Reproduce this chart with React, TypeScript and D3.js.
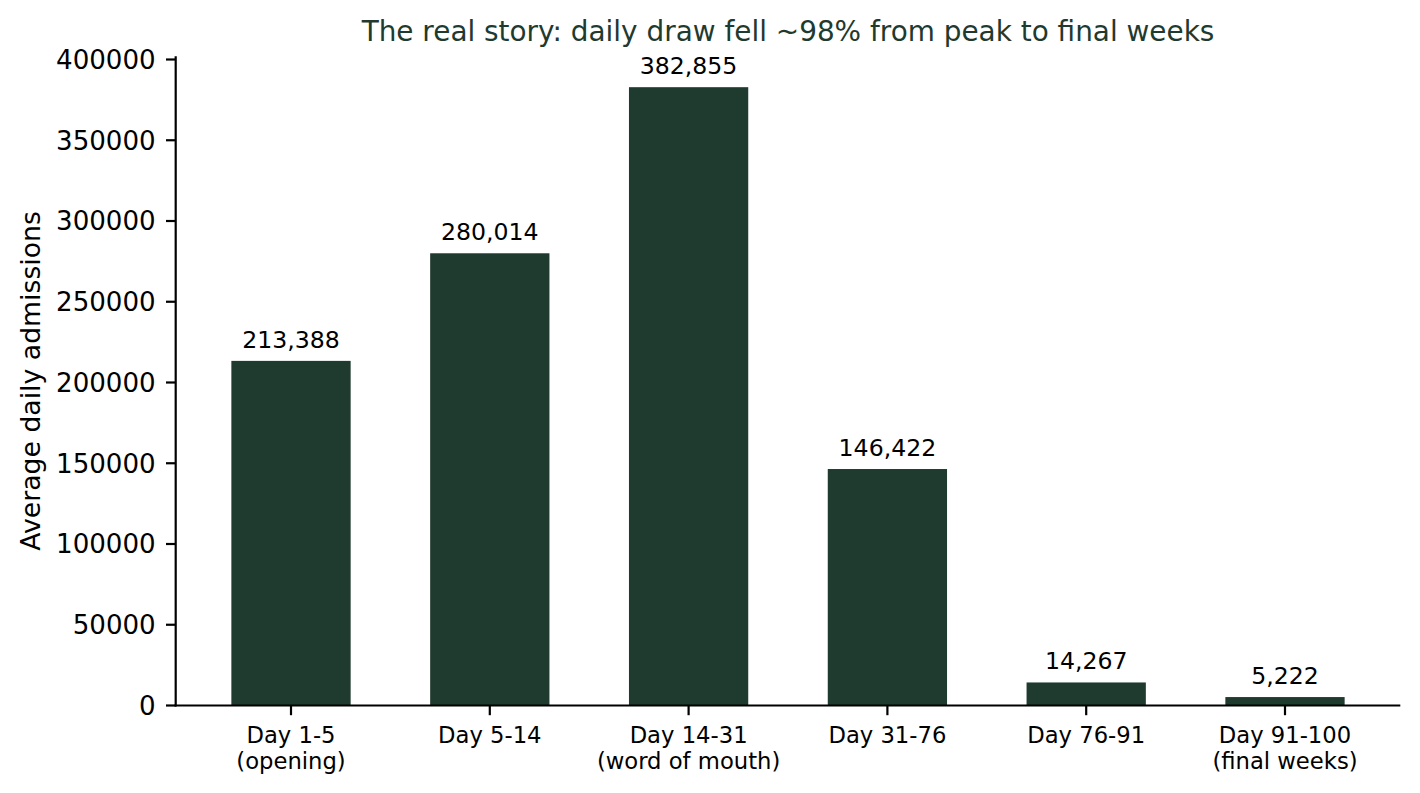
import React from 'react';
import * as d3 from 'd3';

const categories = [
  ['Day 1-5', '(opening)'],
  ['Day 5-14'],
  ['Day 14-31', '(word of mouth)'],
  ['Day 31-76'],
  ['Day 76-91'],
  ['Day 91-100', '(final weeks)'],
];
const avgDaily = [213388, 280014, 382855, 146422, 14267, 5222];
const yTicks = [0, 50000, 100000, 150000, 200000, 250000, 300000, 350000, 400000];

const title = 'The real story: daily draw fell ~98% from peak to final weeks';
const yLabel = 'Average daily admissions';

const W = 1420;
const H = 793;
const barColor = '#1f3a2f';
const font = '"DejaVu Sans", sans-serif';

export default function App() {
  const yMax = d3.max(avgDaily)! * 1.05;
  const x = d3.scaleLinear().domain([-0.58, categories.length - 1 + 0.58]).range([175.7, 1400.3]);
  const y = d3.scaleLinear().domain([0, yMax]).range([705.5, 705.5 - (yMax / 400000) * 646]);
  const barW = x(0.6) - x(0);
  const fmt = d3.format(',');

  return (
    <svg
      width={W}
      height={H}
      style={{ position: 'absolute', left: 0, top: 0, background: '#fff' }}
      fontFamily={font}
    >
      <text x={(x.range()[0] + x.range()[1]) / 2} y={41} textAnchor="middle" fontSize={27.9} fill={barColor}>
        {title}
      </text>

      {/* bars */}
      {avgDaily.map((v, i) => (
        <g key={i}>
          <rect x={x(i) - barW / 2} y={y(v)} width={barW} height={y(0) - y(v)} fill={barColor} />
          <text x={x(i)} y={y(v) - 13} textAnchor="middle" fontSize={23.6} fill="#000">
            {fmt(v)}
          </text>
        </g>
      ))}

      {/* y axis */}
      <line x1={x.range()[0]} x2={x.range()[0]} y1={y(yMax)} y2={y(0) + 1.1} stroke="#000" strokeWidth={2.2} />
      {yTicks.map((t) => (
        <g key={t}>
          <line x1={x.range()[0] - 9.7} x2={x.range()[0]} y1={y(t)} y2={y(t)} stroke="#000" strokeWidth={2.2} />
          <text x={x.range()[0] - 20} y={y(t)} dy="0.36em" textAnchor="end" fontSize={26.1} fill="#000">
            {t}
          </text>
        </g>
      ))}
      <text
        transform={`translate(40,${(y(0) + y(yMax)) / 2}) rotate(-90)`}
        textAnchor="middle"
        fontSize={26.7}
        fill="#000"
      >
        {yLabel}
      </text>

      {/* x axis */}
      <line x1={x.range()[0] - 1.1} x2={x.range()[1]} y1={y(0)} y2={y(0)} stroke="#000" strokeWidth={2.2} />
      {categories.map((lines, i) => (
        <g key={i}>
          <line x1={x(i)} x2={x(i)} y1={y(0)} y2={y(0) + 9.7} stroke="#000" strokeWidth={2.2} />
          {lines.map((s, j) => (
            <text key={j} x={x(i)} y={743 + j * 26} textAnchor="middle" fontSize={22.7} fill="#000">
              {s}
            </text>
          ))}
        </g>
      ))}
    </svg>
  );
}
